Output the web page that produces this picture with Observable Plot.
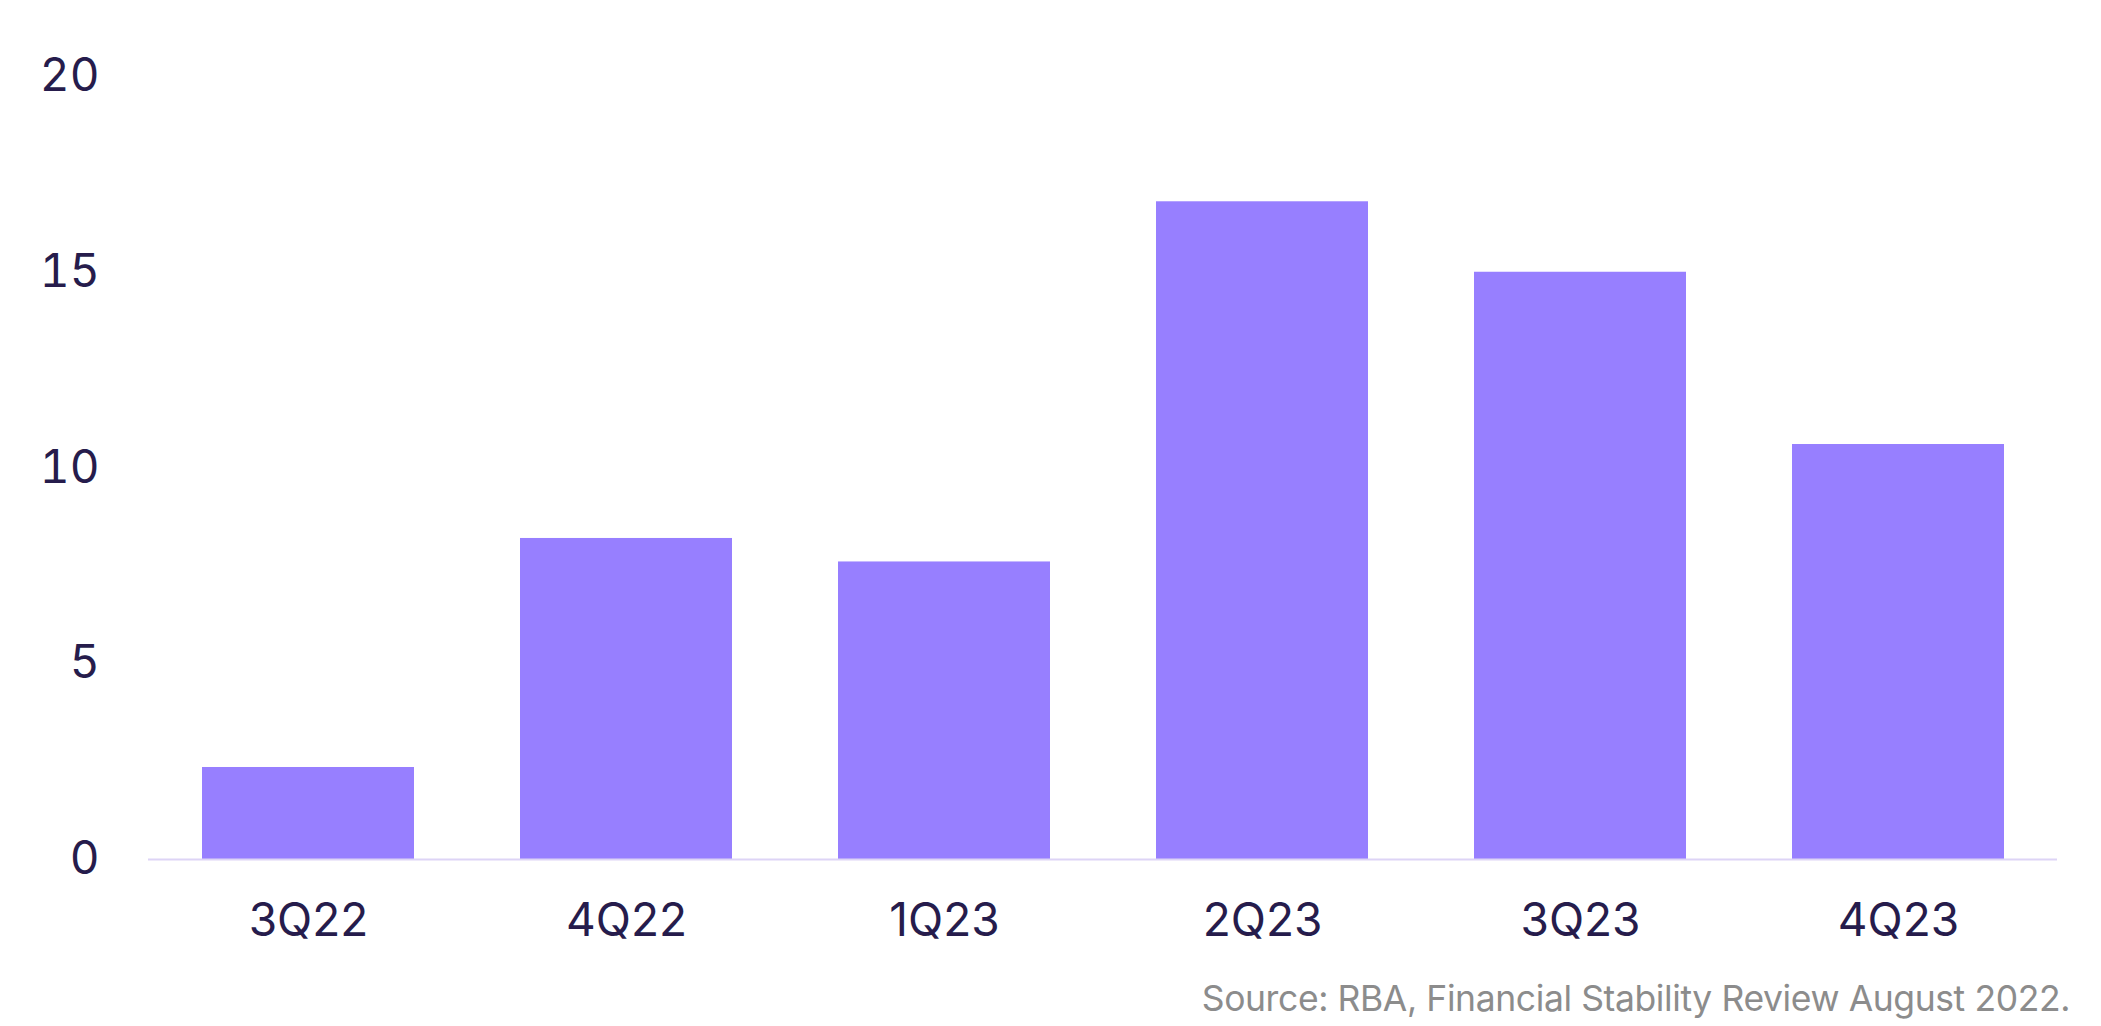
<!DOCTYPE html>
<html>
<head>
<meta charset="utf-8">
<script src="https://cdn.jsdelivr.net/npm/d3@7"></script>
<script src="https://cdn.jsdelivr.net/npm/@observablehq/plot@0.6"></script>
<style>
  html, body { margin: 0; padding: 0; background: #ffffff; }
  #wrap { position: relative; width: 2101px; height: 1026px; }
  #caption {
    position: absolute; right: 31px; top: 977px;
    font-family: Inter, "Noto Sans", sans-serif; font-size: 35.5px;
    color: #8c8c8c; letter-spacing: -0.4px; white-space: nowrap;
  }
</style>
</head>
<body>
<div id="wrap">
  <div id="chart"></div>
  <div id="caption">Source: RBA, Financial Stability Review August 2022.</div>
</div>
<script>
const quarters = ["3Q22", "4Q22", "1Q23", "2Q23", "3Q23", "4Q23"];
const values = [2.35, 8.2, 7.6, 16.8, 15.0, 10.6];
const yTicks = [0, 5, 10, 15, 20];

const data = quarters.map((q, i) => ({quarter: q, value: values[i]}));

const chart = Plot.plot({
  width: 2101,
  height: 970,
  marginLeft: 148,
  marginRight: 44,
  marginTop: 76,
  marginBottom: 111,
  style: {fontFamily: "Inter, 'Noto Sans', sans-serif", fontSize: "46px", color: "#261c4c", background: "#ffffff"},
  x: {domain: quarters, paddingInner: 0.334, paddingOuter: 0.167, label: null, tickSize: 0, tickPadding: 44},
  y: {domain: [0, 20], ticks: yTicks, label: null, tickSize: 0, tickPadding: 49},
  marks: [
    Plot.barY(data, {x: "quarter", y: "value", fill: "#977fff"}),
    Plot.ruleY([0], {stroke: "#ddd4f6", strokeWidth: 2})
  ]
});
document.getElementById("chart").appendChild(chart);
</script>
</body>
</html>
